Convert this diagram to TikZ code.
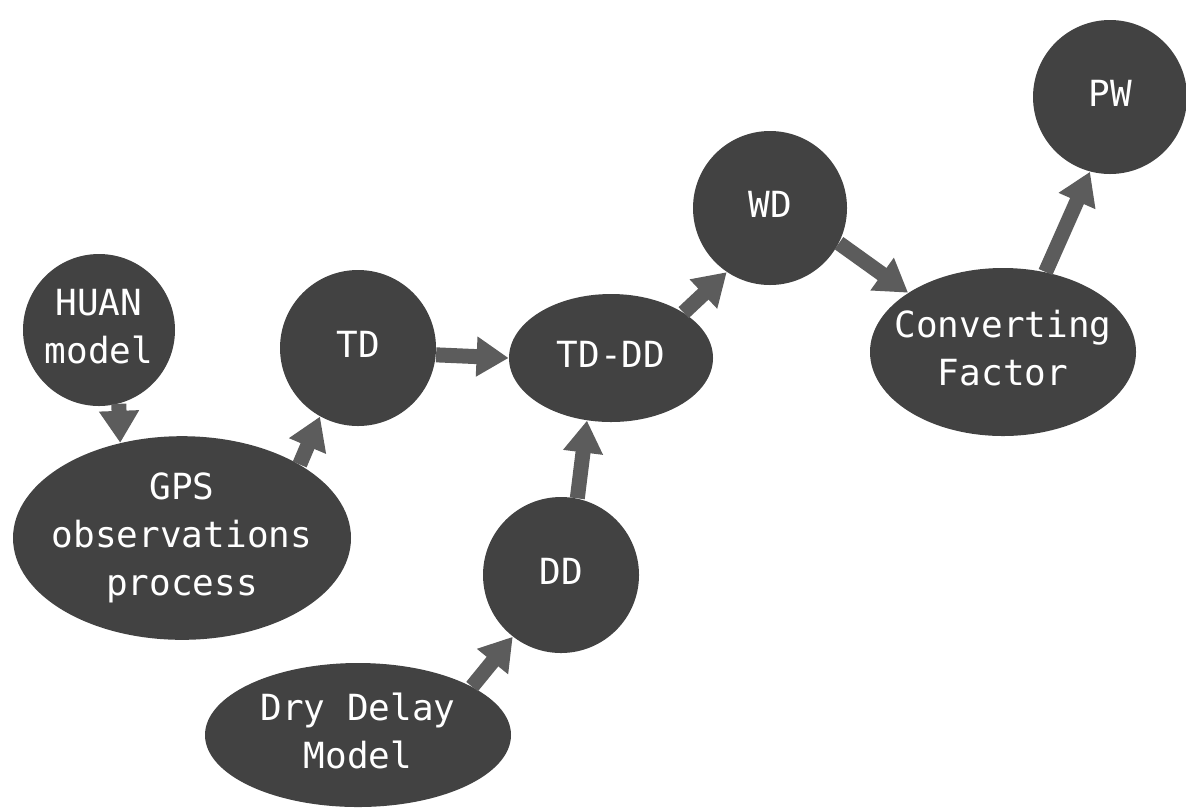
\documentclass[tikz,border=0pt]{standalone}
\usepackage{fontspec}
\setmonofont{DejaVu Sans Mono}
\usetikzlibrary{shapes.geometric,arrows.meta}
\definecolor{nodegray}{gray}{0.26}
\definecolor{arrowgray}{gray}{0.36}
\newcommand{\ctext}[1]{\makebox[0pt]{\begin{tabular}{@{}c@{}}#1\end{tabular}}}
\begin{document}
\begin{tikzpicture}[x=0.5pt,y=-0.5pt,
  nd/.style={fill=nodegray, text=white, inner sep=0pt,
    font=\ttfamily\fontsize{18}{24}\selectfont},
  circ/.style={nd, circle, minimum size=#1},
  ell/.style 2 args={nd, ellipse, minimum width=#1, minimum height=#2},
  arr/.style={draw=arrowgray, line width=7.5pt,
    -{Triangle[length=16pt 0 0, width=19pt 0 0]}}]
\useasboundingbox (0,0) rectangle (1186,810);
% nodes
\node[circ=76pt] (huan) at (99,330) {\ctext{HUAN\\model}};
\node[ell={169pt}{88pt}] (gps) at (182,538) {\ctext{GPS\\observations\\process}};
\node[circ=78pt] (td) at (358,348) {\ctext{TD}};
\node[ell={102pt}{64pt}] (tddd) at (611,358) {\ctext{TD-DD}};
\node[circ=78pt] (dd) at (561,575) {\ctext{DD}};
\node[ell={153pt}{72pt}] (ddm) at (358,735) {\ctext{Dry Delay\\Model}};
\node[circ=77pt] (wd) at (770,208) {\ctext{WD}};
\node[ell={133pt}{84pt}] (cf) at (1003,352) {\ctext{Converting\\Factor}};
\node[circ=77pt] (pw) at (1110,97) {\ctext{PW}};
% connectors
\draw[arr] (huan.-75) -- (gps.123);
\draw[arr] (gps.32) -- (td.241);
\draw[arr] (td.-5) -- (tddd.west);
\draw[arr] (dd.78) -- (tddd.249);
\draw[arr] (ddm.23) -- (dd.232);
\draw[arr] (tddd.32) -- (wd.236);
\draw[arr] (wd.-27) -- (cf.148);
\draw[arr] (cf.62) -- (pw.255);
\end{tikzpicture}
\end{document}
